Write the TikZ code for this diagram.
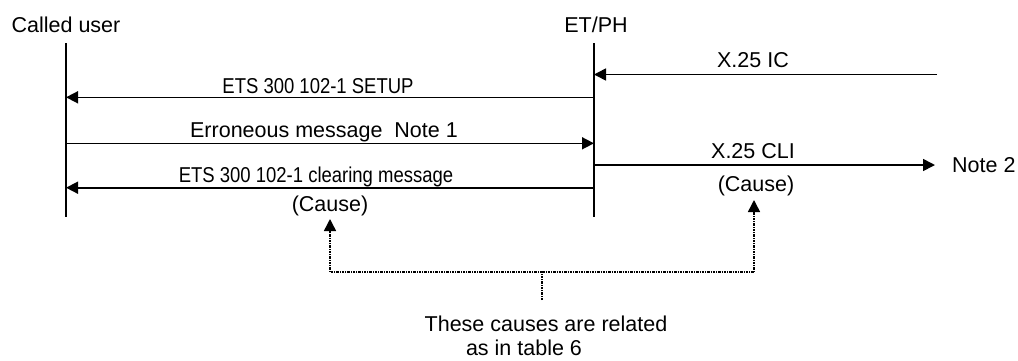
\documentclass[tikz,border=0pt]{standalone}
\usepackage{fontspec}
\setmainfont{Liberation Sans}
\newfontfamily\narrowsans[FakeStretch=0.86]{Liberation Sans}
\usetikzlibrary{arrows.meta}
\begin{document}
\begin{tikzpicture}[x=1pt,y=-1pt,
  lbl/.style={inner sep=0pt, anchor=base, font=\fontsize{21.5}{25}\selectfont},
  etslbl/.style={lbl, font=\narrowsans\fontsize{21.5}{25}\selectfont},
  lifeline/.style={line width=1.6pt},
  msg/.style={line width=1.6pt, -{Triangle[length=12pt,width=12pt]}},
  relate/.style={line width=1.5pt, dash pattern=on 2.5pt off 1pt on 1pt off 1pt},
  relarrow/.style={relate, -{Triangle[length=12pt,width=12pt]}}]
\useasboundingbox (0,0) rectangle (1018,360);

% entities and lifelines
\node[lbl] (user) at (66,32) {Called user};
\node[lbl] (etph) at (596,32) {ET/PH};
\coordinate (uTop) at (66,43);  \coordinate (uBot) at (66,217);
\coordinate (eTop) at (594,43); \coordinate (eBot) at (594,217);
\draw[lifeline] (uTop) -- (uBot);
\draw[lifeline] (eTop) -- (eBot);

% message end points
\coordinate (icSrc)  at (937,74.5);  \coordinate (icDst)  at (594,74.5);
\coordinate (suSrc)  at (594,97.3);  \coordinate (suDst)  at (66,97.3);
\coordinate (erSrc)  at (66,143.3);  \coordinate (erDst)  at (594,143.3);
\coordinate (cliSrc) at (594,165);   \coordinate (cliDst) at (935,165);
\coordinate (clSrc)  at (594,187.7); \coordinate (clDst)  at (66,187.7);

% messages
\draw[msg] (icSrc) -- (icDst);
\node[lbl] (icLbl) at (753,67) {X.25 IC};
\draw[msg] (suSrc) -- (suDst);
\node[etslbl] (suLbl) at (318,93) {ETS 300 102-1 SETUP};
\draw[msg] (erSrc) -- (erDst);
\node[lbl] (erLbl) at (324,137) {Erroneous message\ \ Note 1};
\draw[msg] (cliSrc) -- (cliDst);
\node[lbl] (cliLbl) at (753,158) {X.25 CLI};
\node[lbl, anchor=base west] (note2) at (952,172) {Note 2};
\draw[msg] (clSrc) -- (clDst);
\node[etslbl] (clLbl) at (316,182) {ETS 300 102-1 clearing message};

% causes
\node[lbl] (causeL) at (330,211) {(Cause)};
\node[lbl] (causeR) at (756,191.5) {(Cause)};

% relation between the two causes
\coordinate (lTip) at (330,219);
\coordinate (rTip) at (754,200);
\coordinate (jn)   at (542,272);
\coordinate (stub) at (542,300);
\draw[relate] (stub) -- (jn);
\draw[relarrow] (jn) -| (lTip);
\draw[relarrow] (jn) -| (rTip);
\node[lbl] (rel1) at (546,331.5) {These causes are related};
\node[lbl] (rel2) at (524,355.5) {as in table 6};
\end{tikzpicture}
\end{document}
